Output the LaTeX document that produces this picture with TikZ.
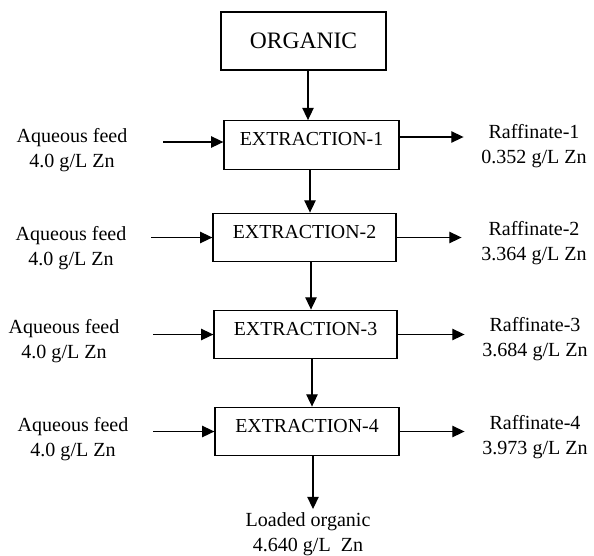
\documentclass[tikz,border=0pt]{standalone}
\usepackage{fontspec}
\setmainfont{Liberation Serif}
\usetikzlibrary{arrows.meta, calc}

\begin{document}
\begin{tikzpicture}[x=0.02cm, y=-0.02cm,
    stage/.style={draw, line width=0.75pt, inner sep=0pt, minimum height=0.97cm,
      text height=8pt, text depth=7pt, font=\fontsize{11.3}{14}\selectfont},
    stream/.style={align=center, inner sep=2pt, font=\fontsize{11.4}{14.2}\selectfont},
    flow/.style={line width=0.7pt, -{Triangle[length=7pt,width=6.5pt]}}]
  \useasboundingbox (0,0) rectangle (594,555);

  \begin{scope}
    \node (org) [draw, line width=0.75pt, minimum width=3.3cm, minimum height=1.16cm, font=\fontsize{13.4}{16}\selectfont] at (303.5,41) {ORGANIC};
    \node (ext1) [stage, minimum width=3.5cm] at (311.5,145) {EXTRACTION-1};
    \node (ext2) [stage, minimum width=3.66cm] at (304.5,237.5) {EXTRACTION-2};
    \node (ext3) [stage, minimum width=3.66cm] at (305.5,334.5) {EXTRACTION-3};
    \node (ext4) [stage, minimum width=3.68cm] at (307,431.5) {EXTRACTION-4};

    \node (feed1) [stream] at (72,150.5) {Aqueous feed\\4.0 g/L Zn};
    \node (feed2) [stream] at (71,248.5) {Aqueous feed\\4.0 g/L Zn};
    \node (feed3) [stream] at (64,341.5) {Aqueous feed\\4.0 g/L Zn};
    \node (feed4) [stream] at (73,439.5) {Aqueous feed\\4.0 g/L Zn};

    \node (raf1) [stream] at (534,146) {Raffinate-1\\0.352 g/L Zn};
    \node (raf2) [stream] at (534,243.5) {Raffinate-2\\3.364 g/L Zn};
    \node (raf3) [stream] at (535,339.5) {Raffinate-3\\3.684 g/L Zn};
    \node (raf4) [stream] at (535,437.5) {Raffinate-4\\3.973 g/L Zn};

    \node (loaded) [stream] at (308,534.5) {Loaded organic\\4.640 g/L\ \ Zn};
  \end{scope}

  % organic down through the stages
  \draw[flow] ($(org.south)+(4.5,0)$) -- ($(org.south |- ext1.north)+(4.5,0)$);
  \draw[flow] ($(ext1.south)+(-1.5,0)$) -- ($(ext1.south |- ext2.north)+(-1.5,0)$);
  \draw[flow] ($(ext2.south)+(6.5,0)$) -- ($(ext2.south |- ext3.north)+(6.5,0)$);
  \draw[flow] ($(ext3.south)+(6.5,0)$) -- ($(ext3.south |- ext4.north)+(6.5,0)$);
  \draw[flow] ($(ext4.south)+(6,0)$) -- ($(ext4.south |- loaded.north)+(6,0)$);

  % aqueous feeds in
  \draw[flow] ($(feed1.east |- ext1.west)+(32,-3)$) -- ($(ext1.west)+(0,-3)$);
  \draw[flow] ($(feed2.east |- ext2.west)+(21,0)$) -- (ext2.west);
  \draw[flow] ($(feed3.east |- ext3.west)+(30,0)$) -- (ext3.west);
  \draw[flow] ($(feed4.east |- ext4.west)+(21,0)$) -- (ext4.west);

  % raffinates out
  \draw[flow] ($(ext1.east)+(0,-8)$) -- ($(raf1.west |- ext1.east)+(-14,-8)$);
  \draw[flow] (ext2.east) -- ($(raf2.west |- ext2.east)+(-16,0)$);
  \draw[flow] (ext3.east) -- ($(raf3.west |- ext3.east)+(-14,0)$);
  \draw[flow] (ext4.east) -- ($(raf4.west |- ext4.east)+(-14,0)$);
\end{tikzpicture}
\end{document}
